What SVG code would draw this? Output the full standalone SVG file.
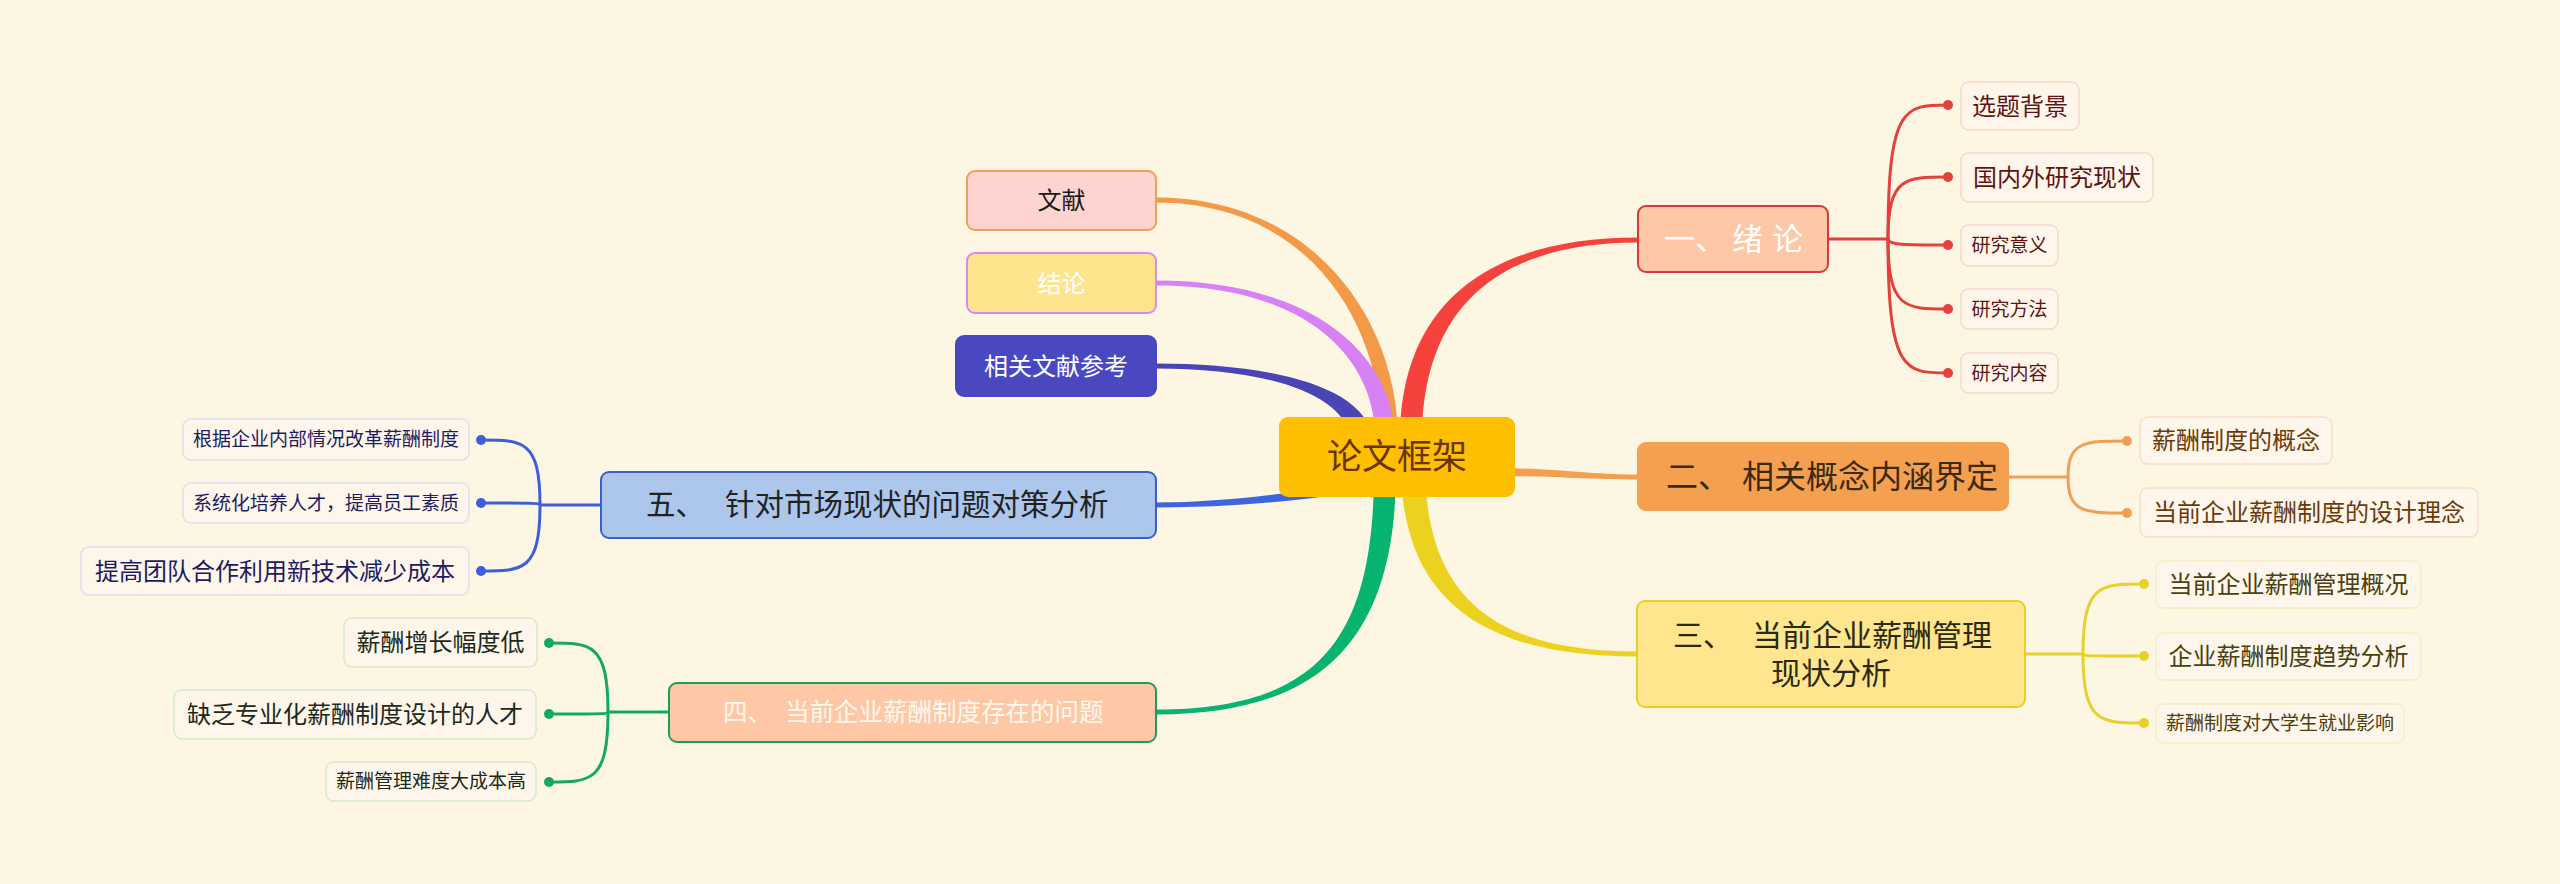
<svg xmlns="http://www.w3.org/2000/svg" width="2560" height="884" viewBox="0 0 2560 884">
<style>
text{font-family:"Noto Sans CJK SC","Noto Sans",sans-serif;}
.c{text-anchor:middle;}
.f24{font-size:24px;}
.f19{font-size:19px;}
.sub{fill:#fef6ea;stroke-width:1.5;}
.s1{stroke:#f5d8cd;} .s2{stroke:#f6e0cb;} .s3{stroke:#f5ebc8;} .s4{stroke:#d4eacf;} .s5{stroke:#dcdff1;}
.t1{fill:#5c1414;} .t2{fill:#6b3a0c;} .t3{fill:#4a4010;} .t4{fill:#1c2a1c;} .t5{fill:#1c1c62;}
.l{fill:none;stroke-width:3;stroke-linecap:round;}
.l1{stroke:#e3413c;} .l2{stroke:#ef9f55;} .l3{stroke:#e9cf2a;} .l4{stroke:#13a866;} .l5{stroke:#3d5fd9;}
</style>
<rect width="2560" height="884" fill="#fdf6e3"/>
<g id="connectors">
  <path d="M1398,440 C1398,318 1312,197.5 1156,197.5 L1156,202.5 C1308,202.5 1382,322 1382,440 Z" fill="#f29a48"/>
  <path d="M1395,440 C1395,362 1322,280.5 1156,280.5 L1156,285.5 C1318,285.5 1377,368 1375,440 Z" fill="#d781f4"/>
  <path d="M1373,440 C1366,383 1262,363.5 1156,363.5 L1156,368.5 C1258,368.5 1344,390 1351,440 Z" fill="#4a45b5"/>
  <path d="M1400,440 C1400,296 1498,237.5 1638,237.5 L1638,242.5 C1502,242.5 1422,304 1422,440 Z" fill="#f5423c"/>
  <path d="M1490,468 C1560,468 1580,474.5 1638,474.5 L1638,479.5 C1580,479.5 1560,476 1490,476 Z" fill="#f2a04f"/>
  <path d="M1401,470 C1403,604 1488,656.5 1637,656.5 L1637,651.5 C1492,651.5 1427,596 1425,470 Z" fill="#ecd21e"/>
  <path d="M1396,470 C1396,644 1318,714.5 1156,714.5 L1156,709.5 C1322,709.5 1374,636 1374,470 Z" fill="#06b46f"/>
  <path d="M1350,483.5 C1290,493.5 1220,502.5 1156,502.5 L1156,507.5 C1220,507.5 1290,502.5 1350,492.5 Z" fill="#3e65e0"/>
  <g class="l l1">
    <path d="M1828,239 H1888"/>
    <path d="M1888,239 C1888,105 1905,105 1948,105"/>
    <path d="M1888,239 C1888,177 1905,177 1948,177"/>
    <path d="M1888,239 C1888,245 1905,245 1948,245"/>
    <path d="M1888,239 C1888,309 1905,309 1948,309"/>
    <path d="M1888,239 C1888,373 1905,373 1948,373"/>
  </g>
  <g fill="#e3413c"><circle cx="1948" cy="105" r="5"/><circle cx="1948" cy="177" r="5"/><circle cx="1948" cy="245" r="5"/><circle cx="1948" cy="309" r="5"/><circle cx="1948" cy="373" r="5"/></g>
  <g class="l l2">
    <path d="M2008,477 H2068"/>
    <path d="M2068,477 C2068,441 2085,441 2127,441"/>
    <path d="M2068,477 C2068,513 2085,513 2127,513"/>
  </g>
  <g fill="#ef9f55"><circle cx="2127" cy="441" r="5"/><circle cx="2127" cy="513" r="5"/></g>
  <g class="l l3">
    <path d="M2025,654 H2083"/>
    <path d="M2083,654 C2083,584 2100,584 2144,584"/>
    <path d="M2083,654 C2083,656 2100,656 2144,656"/>
    <path d="M2083,654 C2083,723 2100,723 2144,723"/>
  </g>
  <g fill="#e9cf2a"><circle cx="2144" cy="584" r="5"/><circle cx="2144" cy="656" r="5"/><circle cx="2144" cy="723" r="5"/></g>
  <g class="l l4">
    <path d="M669,712 H608"/>
    <path d="M608,712 C608,643 591,643 549,643"/>
    <path d="M608,712 C608,714 591,714 549,714"/>
    <path d="M608,712 C608,782 591,782 549,782"/>
  </g>
  <g fill="#13a866"><circle cx="549" cy="643" r="5"/><circle cx="549" cy="714" r="5"/><circle cx="549" cy="782" r="5"/></g>
  <g class="l l5">
    <path d="M601,505 H540"/>
    <path d="M540,505 C540,440 523,440 481,440"/>
    <path d="M540,505 C540,503 523,503 481,503"/>
    <path d="M540,505 C540,571 523,571 481,571"/>
  </g>
  <g fill="#3d5fd9"><circle cx="481" cy="440" r="5"/><circle cx="481" cy="503" r="5"/><circle cx="481" cy="571" r="5"/></g>
</g>
<g id="root">
  <rect x="1279" y="417" width="236" height="80" rx="9" fill="#fdbf00"/>
  <text x="1397" y="469" class="c" font-size="35" fill="#6b3300">论文框架</text>
</g>
<g id="n1">
  <rect x="1638" y="206" width="190" height="66" rx="8" fill="#fec8a6" stroke="#d93b3b" stroke-width="2"/>
  <text font-size="31" fill="#ffffff" x="1664 1695 1732 1772" y="250">一、绪论</text>
</g>
<g id="n2">
  <rect x="1638" y="443" width="370" height="67" rx="8" fill="#f4a04f" stroke="#f2a04f" stroke-width="2"/>
  <text font-size="32" fill="#3a2a10" y="488"><tspan x="1666">二、</tspan><tspan x="1742">相关概念内涵界定</tspan></text>
</g>
<g id="n3">
  <rect x="1637" y="601" width="388" height="106" rx="8" fill="#ffe58e" stroke="#e8cd2c" stroke-width="2"/>
  <text font-size="30" fill="#2a2a12" y="646"><tspan x="1673">三、</tspan><tspan x="1752">当前企业薪酬管理</tspan><tspan x="1771" y="684">现状分析</tspan></text>
</g>
<g id="n4">
  <rect x="669" y="683" width="487" height="59" rx="8" fill="#fec8a6" stroke="#1a9c5a" stroke-width="2"/>
  <text font-size="24.5" fill="#fff8ee" y="721"><tspan x="723">四、</tspan><tspan x="785">当前企业薪酬制度存在的问题</tspan></text>
</g>
<g id="n5">
  <rect x="601" y="472" width="555" height="66" rx="8" fill="#adc6ec" stroke="#3a5fcd" stroke-width="2"/>
  <text font-size="29.5" fill="#222222" y="515"><tspan x="646">五、</tspan><tspan x="725">针对市场现状的问题对策分析</tspan></text>
</g>
<g id="wenxian">
  <rect x="967" y="171" width="189" height="59" rx="8" fill="#ffd4d0" stroke="#f0a050" stroke-width="2"/>
  <text x="1061.5" y="209" class="c f24" fill="#1a1a1a">文献</text>
</g>
<g id="jielun">
  <rect x="967" y="253" width="189" height="60" rx="8" fill="#ffe48e" stroke="#d78af0" stroke-width="2"/>
  <text x="1061.5" y="291.5" class="c f24" fill="#ffffff">结论</text>
</g>
<g id="cankao">
  <rect x="956" y="336" width="200" height="60" rx="8" fill="#4a48c0" stroke="#4a48c0" stroke-width="2"/>
  <text x="1056" y="374.5" class="c f24" fill="#ffffff">相关文献参考</text>
</g>
<g id="n1-1"><rect class="sub s1" x="1961" y="82" width="118" height="48" rx="8"/><text class="c f24 t1" x="2020" y="114.5">选题背景</text></g>
<g id="n1-2"><rect class="sub s1" x="1961" y="153" width="192" height="49" rx="8"/><text class="c f24 t1" x="2057" y="186">国内外研究现状</text></g>
<g id="n1-3"><rect class="sub s1" x="1961" y="225" width="97" height="41" rx="8"/><text class="c f19 t1" x="2009.5" y="252">研究意义</text></g>
<g id="n1-4"><rect class="sub s1" x="1961" y="289" width="97" height="40" rx="8"/><text class="c f19 t1" x="2009.5" y="315.7">研究方法</text></g>
<g id="n1-5"><rect class="sub s1" x="1961" y="353" width="97" height="40" rx="8"/><text class="c f19 t1" x="2009.5" y="379.7">研究内容</text></g>
<g id="n2-1"><rect class="sub s2" x="2140" y="417" width="192" height="47" rx="8"/><text class="c f24 t2" x="2236" y="449">薪酬制度的概念</text></g>
<g id="n2-2"><rect class="sub s2" x="2140" y="488" width="338" height="49" rx="8"/><text class="c f24 t2" x="2309" y="521">当前企业薪酬制度的设计理念</text></g>
<g id="n3-1"><rect class="sub s3" x="2156" y="561" width="265" height="47" rx="8"/><text class="c f24 t3" x="2288.5" y="593">当前企业薪酬管理概况</text></g>
<g id="n3-2"><rect class="sub s3" x="2156" y="633" width="265" height="47" rx="8"/><text class="c f24 t3" x="2288.5" y="665">企业薪酬制度趋势分析</text></g>
<g id="n3-3"><rect class="sub s3" x="2156" y="704" width="248" height="39" rx="8"/><text class="c f19 t3" x="2280" y="730">薪酬制度对大学生就业影响</text></g>
<g id="n4-1"><rect class="sub s4" x="344" y="618" width="193" height="49" rx="8"/><text class="c f24 t4" x="440.5" y="651">薪酬增长幅度低</text></g>
<g id="n4-2"><rect class="sub s4" x="174" y="690" width="362" height="49" rx="8"/><text class="c f24 t4" x="355" y="723">缺乏专业化薪酬制度设计的人才</text></g>
<g id="n4-3"><rect class="sub s4" x="326" y="762" width="210" height="39" rx="8"/><text class="c f19 t4" x="431" y="788">薪酬管理难度大成本高</text></g>
<g id="n5-1"><rect class="sub s5" x="183" y="419" width="286" height="41" rx="8"/><text class="c f19 t5" x="326" y="446">根据企业内部情况改革薪酬制度</text></g>
<g id="n5-2"><rect class="sub s5" x="183" y="483" width="286" height="40" rx="8"/><text class="c f19 t5" x="326" y="509.7">系统化培养人才，提高员工素质</text></g>
<g id="n5-3"><rect class="sub s5" x="81" y="547" width="388" height="48" rx="8"/><text class="c f24 t5" x="275" y="579.5">提高团队合作利用新技术减少成本</text></g>
</svg>
